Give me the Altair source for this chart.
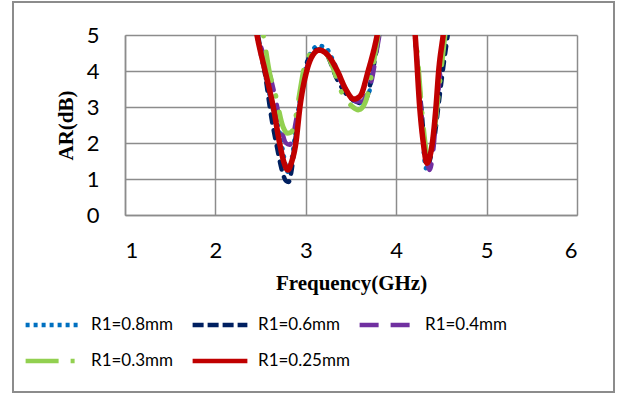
import altair as alt
import pandas as pd

# ---- data ----
series_names = ["R1=0.8mm", "R1=0.6mm", "R1=0.4mm", "R1=0.3mm", "R1=0.25mm"]
series_colors = ["#0070C0", "#002060", "#7030A0", "#92D050", "#C00000"]

f_08 = [2.38, 2.46, 2.55, 2.64, 2.71, 2.76, 2.80, 2.84, 2.90, 2.95, 3.02, 3.08, 3.14, 3.22, 3.30, 3.40, 3.50,
        3.58, 3.65, 3.71, 3.75, 3.80, 3.88, 4.02, 4.15, 4.21, 4.27, 4.33, 4.40, 4.45, 4.49, 4.53, 4.58]
ar_08 = [6.2, 5.0, 3.9, 2.9, 2.3, 1.6, 1.2, 1.5, 2.6, 3.5, 4.3, 4.6, 4.7, 4.65, 4.3, 3.7, 3.25,
         3.1, 3.2, 3.5, 4.3, 5.0, 6.0, 7.5, 6.5, 5.0, 3.0, 1.3, 2.0, 3.1, 4.2, 5.2, 6.3]

f_06 = [2.38, 2.47, 2.55, 2.62, 2.68, 2.74, 2.78, 2.81, 2.84, 2.88, 2.93, 3.00, 3.07, 3.14, 3.22, 3.35, 3.47,
        3.56, 3.62, 3.68, 3.74, 3.81, 3.88, 4.02, 4.16, 4.22, 4.28, 4.32, 4.35, 4.38, 4.42, 4.47, 4.52, 4.57, 4.63]
ar_06 = [6.3, 5.0, 3.9, 2.7, 1.9, 1.2, 0.95, 0.92, 1.2, 2.0, 3.0, 4.1, 4.5, 4.6, 4.5, 3.75, 3.3,
         3.15, 3.1, 3.3, 4.0, 5.0, 6.0, 7.5, 6.3, 4.6, 2.9, 1.8, 1.39, 1.6, 2.1, 3.1, 4.1, 5.0, 6.1]

f_04 = [2.38, 2.47, 2.58, 2.66, 2.73, 2.78, 2.82, 2.86, 2.89, 2.94, 3.00, 3.07, 3.14, 3.22, 3.35, 3.46, 3.56,
        3.62, 3.68, 3.73, 3.79, 3.85, 4.02, 4.16, 4.22, 4.28, 4.33, 4.37, 4.41, 4.45, 4.49, 4.54, 4.60]
ar_04 = [6.3, 5.0, 4.1, 3.3, 2.4, 2.0, 1.95, 2.2, 2.6, 3.25, 4.0, 4.45, 4.6, 4.5, 3.9, 3.4, 3.15,
         3.15, 3.4, 3.75, 4.64, 5.5, 7.5, 6.3, 4.6, 2.8, 1.6, 1.25, 1.8, 3.0, 4.0, 5.0, 6.0]

f_03 = [2.42, 2.53, 2.60, 2.66, 2.75, 2.80, 2.84, 2.88, 2.92, 2.99, 3.06, 3.13, 3.22, 3.30, 3.38, 3.45, 3.52,
        3.58, 3.63, 3.68, 3.73, 3.80, 3.87, 4.02, 4.17, 4.23, 4.28, 4.32, 4.35, 4.38, 4.42, 4.46, 4.50, 4.54, 4.60]
ar_03 = [6.2, 5.0, 3.94, 3.39, 2.44, 2.27, 2.3, 2.6, 3.2, 4.17, 4.5, 4.6, 4.5, 4.1, 3.5, 3.2, 3.0,
         2.92, 3.0, 3.3, 3.94, 5.0, 6.0, 7.5, 6.3, 4.6, 3.0, 2.0, 1.6, 1.8, 2.3, 3.2, 4.1, 5.0, 6.0]

f_025 = [2.38, 2.46, 2.55, 2.64, 2.71, 2.76, 2.80, 2.84, 2.89, 2.935, 3.01, 3.08, 3.15, 3.24, 3.35, 3.44, 3.53,
         3.60, 3.69, 3.79, 3.86, 4.02, 4.15, 4.21, 4.26, 4.30, 4.34, 4.37, 4.40, 4.44, 4.47, 4.52, 4.57]
ar_025 = [6.3, 5.0, 4.0, 3.0, 2.0, 1.45, 1.25, 1.45, 2.0, 3.0, 4.0, 4.45, 4.58, 4.45, 4.0, 3.5, 3.22,
          3.3, 4.0, 5.0, 6.0, 7.5, 6.5, 5.0, 3.0, 2.0, 1.44, 1.6, 2.0, 3.0, 4.0, 5.0, 6.0]

x_ticks = [1, 2, 3, 4, 5, 6]
y_ticks = [0, 1, 2, 3, 4, 5]

all_f = [f_08, f_06, f_04, f_03, f_025]
all_ar = [ar_08, ar_06, ar_04, ar_03, ar_025]

rows = []
for name, fs, ars in zip(series_names, all_f, all_ar):
    for i, (f, a) in enumerate(zip(fs, ars)):
        rows.append({"series": name, "freq": f, "ar": a, "idx": i})
df = pd.DataFrame(rows)

# line styles (round caps in the plot; butt-cap versions for the legend keys)
plot_dashes = [[0.5, 7.5], [8, 8], [15, 15], [29, 16, 0.5, 16], [1, 0]]
legend_dashes = [[4, 4], [11, 4], [19, 12], [33, 12, 4, 12], [1, 0]]
widths = [4.5, 4.5, 4.5, 5, 5.5]

FONT = "Lato"
TITLE_FONT = "Liberation Serif"
GRID = "#8c8c8c"

x_enc = alt.X("freq:Q", scale=alt.Scale(domain=[1, 6], nice=False),
              axis=alt.Axis(values=x_ticks, format="d", title="Frequency(GHz)", ticks=False,
                            labelPadding=25,
                            labelFontSize=22, labelFont=FONT, labelColor="#000",
                            titleFont=TITLE_FONT, titleFontSize=21, titleFontWeight="bold",
                            titleColor="#000", titleX=226, titleY=68, titleBaseline="middle",
                            titleAlign="center",
                            grid=True, gridColor=GRID, gridWidth=1.5,
                            domainColor=GRID, domainWidth=1.5))
y_enc = alt.Y("ar:Q", scale=alt.Scale(domain=[0, 5], nice=False),
              axis=alt.Axis(values=y_ticks, format="d", title="AR(dB)", ticks=False, labelPadding=26,
                            labelFontSize=22, labelFont=FONT, labelColor="#000",
                            titleFont=TITLE_FONT, titleFontSize=21, titleFontWeight="bold",
                            titleColor="#000", titleX=-59, titleY=90, titleBaseline="middle",
                            titleAlign="center", titleAngle=-90,
                            grid=True, gridColor=GRID, gridWidth=1.5,
                            domainColor=GRID, domainWidth=1.5))

layers = []
for i, name in enumerate(series_names):
    lay = alt.Chart(df).transform_filter(alt.datum.series == name).mark_line(
        clip=True, interpolate="monotone", strokeWidth=widths[i], strokeCap="round", strokeJoin="round"
    ).encode(
        x=x_enc, y=y_enc,
        order="idx:Q",
        color=alt.Color("series:N", scale=alt.Scale(domain=series_names, range=series_colors),
                        legend=None),
        strokeDash=alt.StrokeDash("series:N", scale=alt.Scale(domain=series_names, range=plot_dashes),
                                  legend=None),
    )
    layers.append(lay)

# legend-only layer: points lie outside the clipped plot area so no line is drawn
legend = alt.Legend(title=None, orient="none", legendX=-102, legendY=280, columns=3,
                    direction="horizontal",
                    gridAlign="all", columnPadding=7, rowPadding=16, clipHeight=20,
                    symbolType="stroke", symbolSize=3000, symbolStrokeWidth=4.5,
                    labelFont=FONT, labelFontSize=17, labelColor="#000", labelOffset=8,
                    padding=0, labelLimit=200)
leg_df = pd.DataFrame({"series_key": series_names, "freq": [0.0] * 5, "ar": [-10.0] * 5,
                       "idx": [0] * 5})
legend_layer = alt.Chart(leg_df).mark_line(clip=True, strokeWidth=4.5).encode(
    x=x_enc, y=y_enc,
    color=alt.Color("series_key:N", scale=alt.Scale(domain=series_names, range=series_colors),
                    legend=legend),
    strokeDash=alt.StrokeDash("series_key:N",
                              scale=alt.Scale(domain=series_names, range=legend_dashes),
                              legend=legend),
)

frame = alt.Chart(pd.DataFrame({"a": [0]})).mark_rect(
    fillOpacity=0, stroke="#8c8c8c", strokeWidth=2
).encode(x=alt.value(-112), x2=alt.value(489), y=alt.value(-33), y2=alt.value(357))

chart = alt.layer(frame, *layers, legend_layer).resolve_scale(
    color="independent", strokeDash="independent"
).resolve_legend(color="independent", strokeDash="independent").properties(
    width=452, height=180,
    autosize=alt.AutoSizeParams(type="none"),
    padding={"left": 125, "top": 35, "right": 42, "bottom": 179},
    background="white",
).configure_view(stroke=None)

chart.save("out.html", embed_options={"renderer": "svg", "actions": False})
